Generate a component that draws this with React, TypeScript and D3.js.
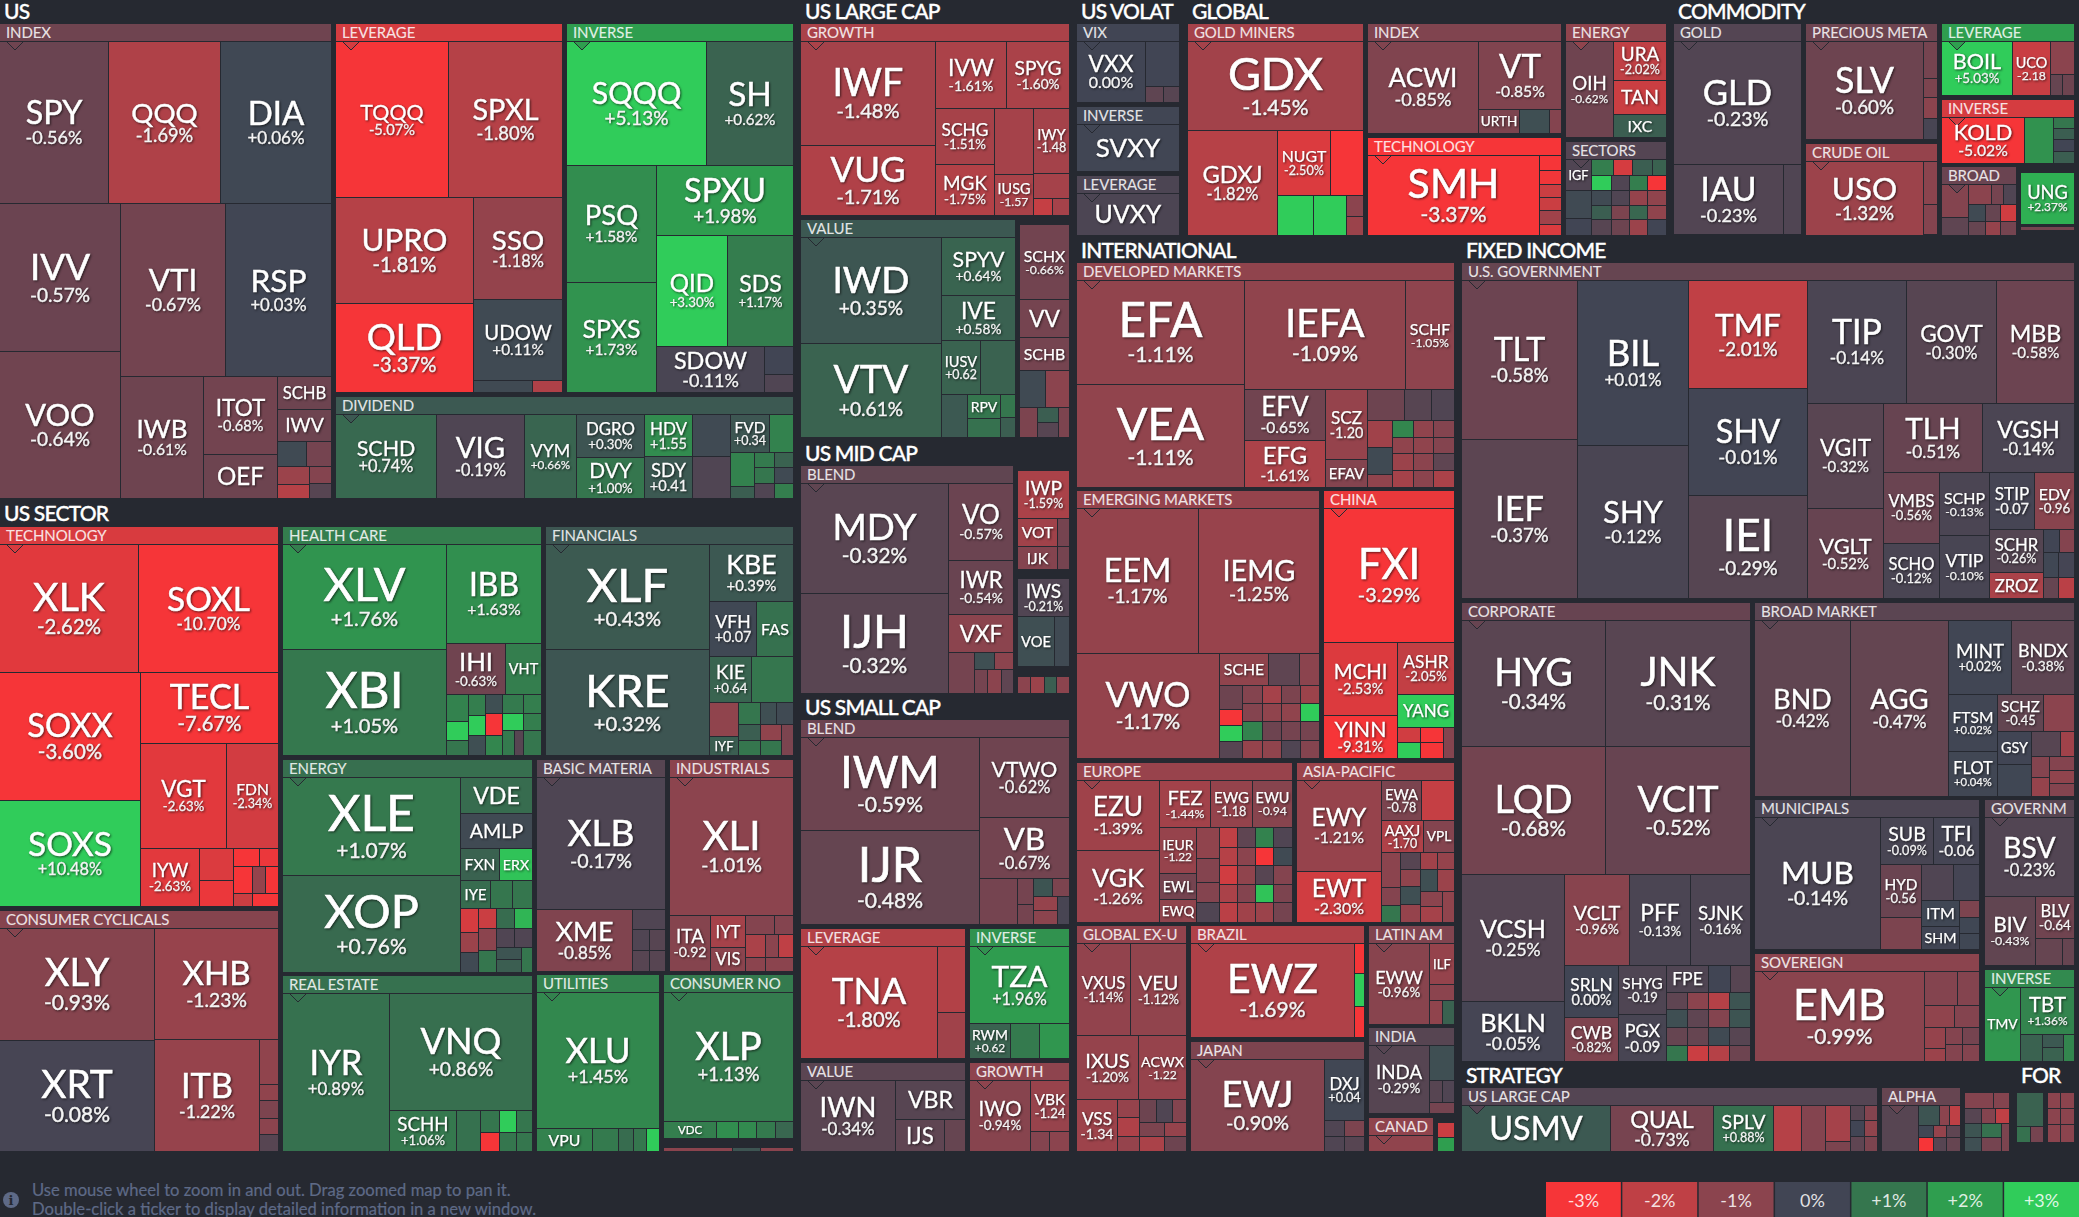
import React from 'react';
import * as d3 from 'd3';

type N = { w: number; d?: 'h' | 'v'; c?: N[]; t?: string; p?: number; f?: number; gap?: boolean; hdr?: string; title?: string; pt?: number };
const L = (w: number, t: string, p: number, f = 1): N => ({ w, t, p, f });
const B = (w: number, p: number): N => ({ w, p });
const G = (w: number): N => ({ w, gap: true });
const H = (w: number, ...c: N[]): N => ({ w, d: 'h', c });
const V = (w: number, ...c: N[]): N => ({ w, d: 'v', c });
const Grp = (w: number, hdr: string, p: number, d: 'h' | 'v', c: N[]): N => ({ w, d, c, hdr, p, pt: 18 });
const Sec = (w: number, title: string, pt: number, d: 'h' | 'v', c: N[]): N => ({ w, d, c, title, pt });

const usIndex = [
  H(162, L(109, 'SPY', -0.56), L(112, 'QQQ', -1.69), L(111, 'DIA', 0.06)),
  H(296, V(121, L(149, 'IVV', -0.57), L(147, 'VOO', -0.64)),
    V(211, H(174, L(105, 'VTI', -0.67), L(106, 'RSP', 0.03)),
      H(122, L(83, 'IWB', -0.61), V(74, L(78, 'ITOT', -0.68), L(44, 'OEF', -0.6, 0)),
        V(54, L(33, 'SCHB', -0.6, 0), L(32, 'IWV', -0.6, 0), H(25, B(29, 0.1), B(25, -0.7)),
          H(32, V(32, B(18, -1.3), B(14, -1.8)), V(22, B(17, -0.9), B(15, -0.3))))))),
];
const usLeverage = [
  H(156, L(113, 'TQQQ', -5.07), L(114, 'SPXL', -1.8)),
  H(196, V(138, L(107, 'UPRO', -1.81), L(89, 'QLD', -3.37)),
    V(89, L(103, 'SSO', -1.18), L(81, 'UDOW', 0.11), H(12, B(59, 0.1), B(30, -1.7)))),
];
const usInverse = [
  H(124, L(140, 'SQQQ', 5.13), L(87, 'SH', 0.62)),
  H(228, V(90, L(118, 'PSQ', 1.58), L(110, 'SPXS', 1.73)),
    V(137, L(71, 'SPXU', 1.98), H(111, L(71, 'QID', 3.3), L(66, 'SDS', 1.17)),
      H(46, L(108, 'SDOW', -0.11), V(29, B(28, 0.0), B(18, -0.2))))),
];
const usDividend = [
  L(101, 'SCHD', 0.74), L(88, 'VIG', -0.19), L(52, 'VYM', 0.66),
  V(68, L(44, 'DGRO', 0.3), L(41, 'DVY', 1.0)),
  V(48, L(42, 'HDV', 1.55, 2), L(43, 'SDY', 0.41, 2)),
  V(38, B(42, 0.1), B(43, -0.2)),
  V(63, H(38, L(39, 'FVD', 0.34, 2), B(24, 1.3)),
    H(47, V(24, B(35, 1.3), B(12, 0.5)), V(20, B(16, 1.1), B(16, 1.0), B(15, -0.2)), V(19, B(16, 0.6), B(16, 0.1), B(15, 1.2)))),
];
const secTechnology = [
  H(128, L(139, 'XLK', -2.62), L(140, 'SOXL', -10.7)),
  H(234, V(141, L(128, 'SOXX', -3.6), L(106, 'SOXS', 10.48)),
    V(138, L(71, 'TECL', -7.67), H(105, L(86, 'VGT', -2.63), L(52, 'FDN', -2.34)),
      H(58, L(59, 'IYW', -2.63), V(34, B(32, -2.5), B(26, -2.8)),
        V(45, H(18, B(26, -3), B(19, -2.8)), H(27, B(19, -3), B(13, -1.2), B(13, -3)), H(13, B(19, -2.2), B(26, -3)))))),
];
const secCyclicals = [
  V(155, L(113, 'XLY', -0.93), L(111, 'XRT', -0.08)),
  V(124, L(112, 'XHB', -1.23), H(112, L(105, 'ITB', -1.22),
    V(19, B(45, -1.1), B(16, -1.1), B(18, -0.8), B(16, -1.0), B(17, -0.3)))),
];
const secHealth = [
  V(164, L(106, 'XLV', 1.76), L(106, 'XBI', 1.05)),
  V(95, L(100, 'IBB', 1.63), H(51, L(59, 'IHI', -0.63), L(36, 'VHT', 1.2, 0)),
    H(61,
      V(22, B(27, 1.3), B(19, 3), B(15, 1.0)),
      V(17, B(21, 1.2), B(20, 3), B(20, 0.2)),
      V(17, B(19, 0.2), B(22, -3), B(20, 1.4)),
      V(21, B(19, 1.1), B(17, 3), H(25, B(12, 1.1), B(9, -0.3))),
      V(18, B(19, 1.2), B(17, 1.2), B(25, 1.0)))),
];
const secFinancials = [
  V(164, L(106, 'XLF', 0.43), L(106, 'KRE', 0.32)),
  V(84, L(58, 'KBE', 0.39), H(55, L(47, 'VFH', 0.07, 2), L(37, 'FAS', 0.9, 0)),
    H(46, L(42, 'KIE', 0.64, 2), B(42, 1.0)),
    H(53, V(29, B(34, -1.1), L(19, 'IYF', 0.5, 0)), V(22, B(22, 1.0), B(16, 0.5), B(15, 1.0)),
      V(33, H(22, B(16, 0.2), B(17, 0.1)), H(31, V(21, B(16, -1.1), B(15, 1.0)), B(12, -0.8))))),
];
const secEnergy = [
  V(178, L(98, 'XLE', 1.07), L(97, 'XOP', 0.76)),
  V(72, L(36, 'VDE', 0.8, 0), L(35, 'AMLP', 0.1, 0), H(32, L(39, 'FXN', 0.6, 0), L(33, 'ERX', 2.8, 0)),
    H(28, L(30, 'IYE', 0.8, 0), B(22, 1.0), B(20, 1.0)),
    H(64, V(18, B(24, -2.4), B(20, -1.3), B(20, 0.1)), V(18, B(20, -2.2), B(22, -1.0), B(22, 1.0)),
      V(36, H(20, B(18, 0.8), B(18, 2.5)), H(19, B(18, -0.2), B(18, -0.2)), H(25, V(25, B(12, 0.3), B(13, 0.5)), B(11, 1.0))))),
];
const secRealEstate = [
  L(107, 'IYR', 0.89),
  V(143, L(117, 'VNQ', 0.86), H(41, L(67, 'SCHH', 1.06), B(24, 0.9), V(19, B(22, 1.0), B(19, -3)), V(17, B(22, 3), B(19, 1.0)), V(16, B(22, 1.0), B(19, 1.0)))),
];
const secBasic = [
  L(132, 'XLB', -0.17),
  H(62, L(96, 'XME', -0.85), V(33, B(20, -0.2), H(21, B(17, -0.2), B(16, -0.3)), H(21, B(17, -0.3), B(16, -0.3)))),
];
const secIndustrials = [
  L(138, 'XLI', -1.01),
  H(56, L(41, 'ITA', -0.92, 2), V(35, L(32, 'IYT', -1.5, 0), L(24, 'VIS', -1.0, 0)),
    V(48, H(19, B(29, -0.9), B(19, -0.9)), H(23, B(20, -1.6), B(13, -1.0), B(15, -2.0)), H(14, B(20, -1.0), B(28, -1.0)))),
];
const secUtilities = [
  L(136, 'XLU', 1.45),
  H(23, L(56, 'VPU', 1.3, 0), B(26, 1.1), B(15, 0.8), B(13, 1.0), B(13, 3)),
];
const secStaples = [
  L(129, 'XLP', 1.13),
  H(17, L(53, 'VDC', 1.2, 0), B(22, 1.6), B(18, 1.5), B(19, 1.1), B(18, 0.7)),
];
const lcGrowth = [
  V(135, L(105, 'IWF', -1.48), L(70, 'VUG', -1.71)),
  V(134, H(67, L(71, 'IVW', -1.61), L(63, 'SPYG', -1.6)),
    H(108, V(59, L(57, 'SCHG', -1.51), L(51, 'MGK', -1.75)),
      V(39, B(67, -1.5), L(41, 'IUSG', -1.57, 2)),
      V(36, L(66, 'IWY', -1.48, 2), B(25, -1.5), H(17, B(19, -2.1), B(17, -1.5))))),
];
const lcValue = [
  V(141, L(107, 'IWD', 0.35), L(94, 'VTV', 0.61)),
  V(74, L(58, 'SPYV', 0.64), L(46, 'IVE', 0.58), H(54, L(39, 'IUSV', 0.62, 2), B(35, 0.6)),
    H(43, B(26, 0.4), V(33, L(24, 'RPV', 1.0, 0), B(19, 0.9)), V(15, B(23, 1.0), B(20, 0.5)))),
];
const lcOther = [
  G(5), L(75, 'SCHX', -0.66), L(38, 'VV', -0.7, 0), L(33, 'SCHB', -0.7, 0),
  H(37, B(26, 0.1), B(24, -1.0)),
  H(30, B(18, -0.8), V(21, B(15, 0.5), B(15, -0.3)), B(11, -0.8)),
];
const mcBlend = [
  V(148, L(111, 'MDY', -0.32), L(100, 'IJH', -0.32)),
  V(65, L(77, 'VO', -0.57), L(55, 'IWR', -0.54), L(38, 'VXF', -1.0, 0),
    H(41, B(26, -0.7), V(39, H(17, B(20, 0.2), B(19, -1.0)), H(24, B(13, -0.7), B(14, -1.0), B(12, -0.4))))),
];
const mcOther = [
  G(5), L(48, 'IWP', -1.59), H(28, L(40, 'VOT', -1.4, 0), B(12, -0.7)), H(23, L(40, 'IJK', -0.9, 0), B(12, -0.7)),
  G(8.6), L(38, 'IWS', -0.21), H(50, L(37, 'VOE', 0.2, 0), B(15, 0.1)), G(9.5),
  H(17, B(13, -1.0), B(14, -1.3), B(12, 0.5), B(13, -1.0)),
];
const scBlend = [
  V(179, L(93, 'IWM', -0.59), L(94, 'IJR', -0.48)),
  V(90, L(80, 'VTWO', -0.62), L(61, 'VB', -0.67),
    H(46, B(38, -0.7), V(16, B(26, -0.7), B(20, -0.7)),
      V(36, H(18, B(19, 0.3), B(17, -0.8)), H(28, V(24, B(14, -1.2), B(14, -1.0)), B(12, -0.1))))),
];
const scLeverage = [L(137, 'TNA', -1.8), V(28, B(66, -1.75), B(46, -1.4))];
const scInverse = [L(77, 'TZA', 1.96), H(35, L(41, 'RWM', 0.62, 2), B(29, 1.1), B(30, 1.8))];
const scValue = [L(95, 'IWN', -0.34), V(70, L(39, 'VBR', -0.3, 0), H(32, L(49, 'IJS', -0.4, 0), B(21, -0.5)))];
const scGrowth = [L(61, 'IWO', -0.94), V(39, L(51, 'VBK', -1.24, 2), H(20, B(19, -0.9), B(20, -1.0)))];
const volVix = [L(69, 'VXX', 0.0), V(34, B(46, 0.0), H(16, B(18, -0.4), B(16, -0.3)))];
const volInverse = [L(48, 'SVXY', 0.02, 0)];
const volLeverage = [L(42, 'UVXY', -0.15, 0)];
const glMiners = [
  L(89, 'GDX', -1.45),
  H(105, L(90, 'GDXJ', -1.82), V(85.5, H(65, L(53, 'NUGT', -2.5), B(32.5, -3)),
    H(40, B(36, 3), B(33, 3), V(16.5, B(21, -1.0), B(19, -1.3))))),
];
const glIndex = [
  L(111, 'ACWI', -0.85),
  V(82.5, L(69, 'VT', -0.85), H(24, L(41, 'URTH', -0.8, 0), B(30, 0.2), B(11.5, -0.9))),
];
const glTech = [L(171.5, 'SMH', -3.37), V(22, B(15.5, -3), B(13.5, -2.9), B(13, -2.2), B(13.5, -2.2), B(13.5, -1.4), B(11, -2.5))];
const glEnergy = [L(48, 'OIH', -0.62), V(53, L(39, 'URA', -2.02), L(34.5, 'TAN', -2.2, 0), L(23, 'IXC', 0.5, 0))];
const glSectors = [
  V(26, L(31, 'IGF', -0.2, 0), B(28, 0.1), B(17, 0.0)),
  V(75,
    H(16, B(21.5, 1.2), B(19, -2.4), B(19.5, 0.5), B(14.7, 0.6)),
    H(15, B(19.5, 3), B(18, -0.2), B(18.5, 1.2), B(19, -3)),
    H(15, B(19.5, 0.1), B(18, -0.2), B(18.5, -1.2), B(19, -1.1)),
    H(14, B(19.5, 0.5), B(18, -0.8), B(18.5, 0.7), B(19, -1.1)),
    H(15, B(19.5, -0.3), B(18, -0.6), B(18.5, -1.3), B(19, 0.0))),
];
const coGold = [L(123, 'GLD', -0.23), H(71, L(110, 'IAU', -0.23), B(18, -0.2))];
const coPrecious = [L(118, 'SLV', -0.6), V(14, B(37, -0.7), B(20, -0.8), B(21, -1.0), B(21, -0.1))];
const coCrude = [L(118, 'USO', -1.32), V(14, B(43, -1.0), B(31, -0.9))];
const coLeverage = [L(71, 'BOIL', 5.03), L(38, 'UCO', -2.18, 2), V(23.5, B(33, -1.0), H(22, B(12, -0.5), B(11.5, -0.6)))];
const coInverse = [L(83, 'KOLD', -5.02), B(29, 1.7), V(20.5, B(11, 1.0), B(11, 0.5), B(12, 0.0), B(12, 0.5))];
const coBroad = [
  V(26, B(33, -0.9), B(18, -0.4)),
  V(48, H(20, B(23, -1.0), B(12, -0.7), B(13, -0.2)), H(17, B(17, 0.1), B(15, -0.5), B(16, -2.3)), H(14, B(17, -0.5), B(15, -1.2), B(16, -0.7))),
];
const coUng = [G(5.3), L(52.7, 'UNG', 2.37), G(2), B(4, -0.7), G(4)];
const inDeveloped = [
  V(168, L(104.5, 'EFA', -1.11), L(103.5, 'VEA', -1.11)),
  V(210, H(110, L(161, 'IEFA', -1.09), L(49, 'SCHF', -1.05)),
    H(98, V(81, L(50.7, 'EFV', -0.65), L(47.3, 'EFG', -1.61)), V(42, L(70, 'SCZ', -1.2, 2), L(28, 'EFAV', -0.9, 0)),
      V(87, H(31, B(37, -0.6), B(27, -0.3), B(23, -0.2)),
        H(67, V(24.6, B(27, -1.4), B(27, 0.1), B(13, -1.1)),
          V(21.4, B(17, 1.4), B(16, -1.1), B(17, -1.3), B(17, -1.5)),
          V(20, B(17, -1.1), B(16, -1.1), B(17, -1.0), B(17, -1.0)),
          V(21, B(17, -0.9), B(16, -0.9), B(17, -0.4), B(17, -1.6)))))),
];
const inEmerging = [
  H(145.5, L(122, 'EEM', -1.17), L(121, 'IEMG', -1.25)),
  H(104.7, L(143, 'VWO', -1.17),
    V(100, H(32, L(49, 'SCHE', -1.1, 0), B(31, -0.4), B(20, -1.0)),
      H(72.7, V(23, B(24, -0.6), B(16, -3), B(16, 3), B(16.7, -0.3)),
        V(19.5, B(18, -0.9), B(17.5, -0.9), B(19, 1.3), B(18.2, -1.2)),
        V(19, B(18, -1.5), B(17.5, -1.1), B(19, -0.6), B(18.2, -1.1)),
        V(19, B(18, -0.8), B(17.5, -1.1), B(19, -0.7), B(18.2, -0.2)),
        V(19.5, B(18, -1.3), B(17.5, 3), B(19, -0.7), B(18.2, -0.9))))),
];
const inChina = [
  L(134.5, 'FXI', -3.29),
  H(115.7, V(74, L(73, 'MCHI', -2.53), L(42.7, 'YINN', -9.31)),
    V(57, L(52, 'ASHR', -2.05), L(33, 'YANG', 3.2, 0), H(30.7, V(23, B(15, -2.3), B(15.7, 3)), V(23, B(15, -3), B(15.7, -3)), B(11, -0.9)))),
];
const inEurope = [
  V(83, L(71, 'EZU', -1.39), L(72, 'VGK', -1.26)),
  V(133, H(48, L(51, 'FEZ', -1.44), L(42, 'EWG', -1.18, 2), L(40, 'EWU', -0.94, 2)),
    H(95, V(37, L(46, 'IEUR', -1.22, 2), L(26, 'EWL', -0.7, 0), L(23, 'EWQ', -1.1, 0)),
      V(23, B(31, -1.1), B(24, -0.9), B(20, -0.9), B(20, -0.2)),
      V(18, B(20, -2.0), B(18, -1.8), B(19, -2.3), B(18, -1.6), B(20, -1.9)),
      V(18, B(20, -0.4), B(18, -1.0), B(19, -1.1), B(18, -0.9), B(20, -1.4)),
      V(18, B(20, 1.3), B(18, -3), B(19, -0.3), B(18, 2.8), B(20, -1.3)),
      V(19, B(20, -0.2), B(18, 0.1), B(19, -0.9), B(18, -0.8), B(20, -0.7)))),
];
const inAsia = [
  V(85, L(92, 'EWY', -1.21), L(51, 'EWT', -2.3)),
  V(73, H(41, L(40, 'EWA', -0.78, 2), B(33, -2.1)), H(32, L(42, 'AAXJ', -1.7, 2), L(31, 'VPL', -0.9, 0)),
    H(70, V(19, B(35, -1.0), B(18, -0.9), B(17, 1.0)), V(20, B(17, -0.3), B(17, -1.1), B(18, 0.2), B(18, -1.2)),
      V(34, H(17, B(17, -1.4), B(17, -1.2)), H(22, B(17, 0.2), B(17, -1.3)), H(31, V(22, B(15, -1.0), B(16, -1.5)), B(12, -1.1))))),
];
const inGlobalEx = [
  H(92.5, L(54, 'VXUS', -1.14), L(56, 'VEU', -1.12)),
  H(64, L(62, 'IXUS', -1.2), L(48, 'ACWX', -1.22, 2)),
  H(52, L(41, 'VSS', -1.34, 2), V(22, B(18, -1.2), B(19, -1.7), B(15, -1.2)),
    V(47, H(23, B(17, -0.6), B(15.5, -0.2), B(14.5, -0.9)), H(14, B(25, -0.8), B(22, -1.2)), H(15, B(25, -1.6), B(22, -0.6)))),
];
const inBrazil = [L(164, 'EWZ', -1.69), V(10, B(30.7, -3), B(33, 3), B(31, -3))];
const inJapan = [L(134, 'EWJ', -0.9), V(40, L(62, 'DXJ', 0.04, 2), H(16, B(20, -0.2), B(20, -0.8)), H(15, B(20, -0.2), B(20, -0.3)))];
const inLatin = [L(61, 'EWW', -0.96), V(25, L(41, 'ILF', -1.2, 0), B(16, -1.0), H(24, B(13, -1.1), B(12, 0.6)))];
const inIndia = [L(61, 'INDA', -0.29), V(25, B(35, 0.2), H(23, B(13, -0.3), B(12, -0.2)), B(11, -0.7))];
const inCanada = [B(16, -1.1)];
const fiGov = [
  V(115.6, L(158, 'TLT', -0.58), L(158.7, 'IEF', -0.37)),
  V(111.4, L(164, 'BIL', 0.01), L(152.7, 'SHY', -0.12)),
  V(119, L(107, 'TMF', -2.01), L(107, 'SHV', -0.01), L(102.7, 'IEI', -0.29)),
  V(266.5, H(122.7, L(99, 'TIP', -0.14), L(90, 'GOVT', -0.3), L(77.5, 'MBB', -0.58)),
    H(194, V(75.2, L(104, 'VGIT', -0.32), L(90, 'VGLT', -0.52)),
      V(191.3, H(68, L(99, 'TLH', -0.51), L(92.3, 'VGSH', -0.14)),
        H(126, V(56.5, L(71, 'VMBS', -0.56), L(55, 'SCHO', -0.12)), V(49.8, L(63, 'SCHP', -0.13), L(63, 'VTIP', -0.1)),
          V(85, H(57, L(45, 'STIP', -0.07, 2), L(40, 'EDV', -0.96, 2)),
            H(69, V(54, L(43, 'SCHR', -0.26), L(26, 'ZROZ', -1.6, 0)),
              V(31, H(23, B(16.5, 0.0), B(14.5, -0.9)), H(25, B(15, 0.05), B(16, -0.05)), H(21, B(15, -0.5), B(16, -1.9)))))))),
  ),
];
const fiCorporate = [
  H(255, V(144, L(126.4, 'HYG', -0.34), L(128.6, 'LQD', -0.68)), V(145, L(126.4, 'JNK', -0.31), L(128.6, 'VCIT', -0.52))),
  H(187.4, V(103, L(127, 'VCSH', -0.25), L(60.4, 'BKLN', -0.05)),
    V(186, H(91, L(65, 'VCLT', -0.96), L(61, 'PFF', -0.13), L(60, 'SJNK', -0.16)),
      H(96.4, V(54, L(52, 'SRLN', 0.0), L(44.4, 'CWB', -0.82)), V(48, L(49, 'SHYG', -0.19, 2), L(47.4, 'PGX', -0.09, 2)),
        V(84, H(27, L(42, 'FPE', -0.2, 0), B(22, 0.0), B(20, -0.3)),
          H(69.4, V(21, B(17.5, -0.4), B(17.5, 0.2), B(17.5, -0.5), B(16.4, 1.0)),
            V(21, B(17.5, -1.0), B(17.5, -0.4), B(17.5, -0.5), B(16.4, -2.2)),
            V(21, B(17.5, -1.8), B(17.5, -0.9), B(17.5, 0.1), B(16.4, -1.8)),
            V(21, B(17.5, 0.3), B(17.5, 0.3), B(17.5, -0.3), B(16.4, -0.6))))))),
];
const fiBroad = [
  L(96, 'BND', -0.42), L(98, 'AGG', -0.47),
  V(125.5, H(75, L(63, 'MINT', 0.02), L(62.5, 'BNDX', -0.38)),
    H(102, V(49, L(57, 'FTSM', 0.02), L(45, 'FLOT', 0.04)),
      V(76.5, H(36.5, L(45.5, 'SCHZ', -0.45, 2), B(31, -1.0)),
        H(65.5, V(33.7, L(33, 'GSY', 0.0, 0), B(32, 0.05)),
          V(42.8, H(25, B(29.3, -0.3), B(13.5, -1.4)), H(40, V(17.5, B(21, -0.9), B(19, -1.2)), V(25.3, B(14, -0.9), B(13, -1.1), B(13, -0.9)))))))),
];
const fiMuni = [
  L(126, 'MUB', -0.14),
  V(99, H(47, L(53, 'SUB', -0.09), L(46, 'TFI', -0.06, 2)),
    H(85.5, V(41, L(53, 'HYD', -0.56, 2), B(32.5, -0.8)),
      V(58, H(36.5, B(32, -0.2), B(26, -0.05)),
        H(49, V(38, L(26, 'ITM', 0.05, 0), L(23, 'SHM', 0.0, 0)), V(20, B(16.5, -0.8), B(16, 0.05), B(16.5, 0.05)))))),
];
const fiSovereign = [
  L(169.7, 'EMB', -0.99),
  V(55.3, H(35, B(33, -0.9), B(22, -0.9)), H(22, B(30, -1.1), B(25, -0.9)),
    H(34.4, V(21, B(21, -1.2), B(13.4, -1.3)), V(17, B(17.6, -0.9), B(16.8, -0.9)), V(17, B(17.6, -0.7), B(16.8, -0.9)))),
];
const fiGovernment = [
  L(79, 'BSV', -0.23),
  H(69, L(51.5, 'BIV', -0.43), V(38.5, L(42, 'BLV', -0.64, 2), H(27, B(27, -0.5), B(11.5, -0.5)))),
];
const fiInverse = [
  L(36.5, 'TMV', 1.8, 0),
  V(53.5, L(47, 'TBT', 1.36), H(27.4, B(22, 0.6), V(21, B(13, 0.4), B(14.4, 0.6)), B(10.5, 1.4))),
];
const stLargeCap = [
  L(149.6, 'USMV', 0.4, 0), L(103, 'QUAL', -0.73), L(60, 'SPLV', 0.88), B(27.7, -1.8), B(23.7, -0.9),
  V(25, B(37, -1.5), B(10, -0.8)),
  V(27.5, H(15, B(14, -0.3), B(13.5, -0.9)), H(17, B(14, 0.0), B(13.5, -1.1)), H(15, B(14, -0.4), B(13.5, -0.8))),
];
const stAlpha = [
  B(36.6, -0.3),
  V(42, H(20, B(21, 0.3), B(10.5, -1.0), B(10.5, -2.0)), H(13, B(15, 0.05), B(13.6, -1.2), B(13.4, -0.4)), H(14, B(15, -3), B(13.6, -0.3), B(13.4, -0.5))),
];
const stOther = [
  G(4.6),
  H(16, B(29.2, -0.9), B(16.3, -0.9)),
  H(14.5, B(17.5, -0.3), B(14, -0.9), B(14, -2.0)),
  H(28, V(17.5, B(14, 0.3), B(14, 0.2)), V(20, B(14, 0.9), B(14, -0.7)), B(8, -0.8)),
];
const forCells = [
  V(27, B(33, 0.6), H(15, B(14, 0.9), B(13, -0.7))),
  G(4),
  V(13, B(15.5, -1.0), B(15.5, -1.0), B(17, -1.0)),
  V(13.5, B(15.5, -1.0), B(15.5, -1.0), B(17, -1.0)),
];

const rootColumns: N[] = [
  V(794,
    Sec(499, 'US', 24, 'h', [
      Grp(332, 'INDEX', -0.62, 'v', usIndex), G(4),
      V(458,
        H(369, Grp(227, 'LEVERAGE', -2.4, 'v', usLeverage), G(4), Grp(227, 'INVERSE', 2.0, 'v', usInverse)),
        G(4),
        Grp(102, 'DIVIDEND', 0.4, 'h', usDividend)),
    ]),
    G(1),
    Sec(652, 'US SECTOR', 26.5, 'h', [
      V(279, Grp(379.5, 'TECHNOLOGY', -2.45, 'v', secTechnology), G(4), Grp(241, 'CONSUMER CYCLICALS', -0.92, 'h', secCyclicals)),
      G(4),
      V(511,
        H(229.5, Grp(259, 'HEALTH CARE', 1.2, 'h', secHealth), G(4), Grp(248, 'FINANCIALS', 0.35, 'h', secFinancials)),
        G(4),
        H(391, 
          V(250, Grp(212, 'ENERGY', 0.85, 'h', secEnergy), G(3), Grp(176, 'REAL ESTATE', 0.9, 'h', secRealEstate)),
          G(4),
          V(257,
            H(211, Grp(129, 'BASIC MATERIA', -0.3, 'v', secBasic), G(4), Grp(124, 'INDUSTRIALS', -1.0, 'v', secIndustrials)),
            G(3),
            H(177, Grp(123, 'UTILITIES', 1.3, 'v', secUtilities), G(4),
              V(130, Grp(164, 'CONSUMER NO', 1.1, 'v', secStaples), G(9), H(4, B(69, -1.0), B(28, 0.3), B(33, -1.0))))))),
    ])),
  G(7),
  V(269,
    Sec(438, 'US LARGE CAP', 24, 'v', [
      Grp(192, 'GROWTH', -1.6, 'h', lcGrowth), G(4),
      H(218, Grp(215, 'VALUE', 0.38, 'h', lcValue), G(4), V(50, ...lcOther)),
    ]),
    Sec(256, 'US MID CAP', 28, 'h', [
      Grp(213, 'BLEND', -0.42, 'h', mcBlend), G(4), V(52, ...mcOther),
    ]),
    Sec(458, 'US SMALL CAP', 26.4, 'v', [
      Grp(205, 'BLEND', -0.58, 'h', scBlend), G(4),
      H(130, Grp(165, 'LEVERAGE', -1.75, 'h', scLeverage), G(4), Grp(100, 'INVERSE', 1.7, 'v', scInverse)),
      G(3.5),
      H(89, Grp(165, 'VALUE', -0.35, 'h', scValue), G(4), Grp(100, 'GROWTH', -1.05, 'h', scGrowth)),
    ])),
  G(7),
  V(998,
    H(235.5,
      Sec(103, 'US VOLAT', 24, 'v', [
        Grp(79, 'VIX', 0.0, 'h', volVix), G(4),
        Grp(65, 'INVERSE', 0.02, 'v', volInverse), G(4),
        Grp(59, 'LEVERAGE', -0.15, 'v', volLeverage),
      ]),
      G(8),
      Sec(479, 'GLOBAL', 24, 'h', [
        Grp(175.5, 'GOLD MINERS', -1.5, 'v', glMiners), G(4.5),
        V(193.5, Grp(110, 'INDEX', -0.85, 'h', glIndex), G(3.5), Grp(98, 'TECHNOLOGY', -3, 'h', glTech)),
        G(4.5),
        V(101, Grp(114, 'ENERGY', -1.1, 'h', glEnergy), G(4), Grp(93.5, 'SECTORS', -0.25, 'h', glSectors)),
      ]),
      G(7),
      Sec(400.5, 'COMMODITY', 24, 'h', [
        Grp(128, 'GOLD', -0.25, 'v', coGold), G(4),
        V(132, Grp(116, 'PRECIOUS META', -0.6, 'h', coPrecious), G(3.7), Grp(91.8, 'CRUDE OIL', -1.2, 'h', coCrude)),
        G(4),
        V(132.5,
          Grp(72.3, 'LEVERAGE', 2.0, 'h', coLeverage), G(3.7),
          Grp(63.7, 'INVERSE', -2.4, 'h', coInverse), G(3.3),
          H(68, Grp(74.5, 'BROAD', -0.55, 'h', coBroad), G(4), V(54, ...coUng))),
      ])),
    G(4.5),
    H(912,
      Sec(378, 'INTERNATIONAL', 23, 'v', [
        Grp(225, 'DEVELOPED MARKETS', -1.1, 'h', inDeveloped), G(3),
        H(267.7, Grp(243, 'EMERGING MARKETS', -1.18, 'v', inEmerging), G(4), Grp(131, 'CHINA', -2.75, 'v', inChina)),
        G(4),
        H(160, Grp(216, 'EUROPE', -1.25, 'h', inEurope), G(4), Grp(158, 'ASIA-PACIFIC', -1.3, 'h', inAsia)),
        G(3.3),
        H(226,
          Grp(110, 'GLOBAL EX-U', -1.15, 'v', inGlobalEx), G(4),
          V(174, Grp(112, 'BRAZIL', -1.7, 'h', inBrazil), G(3.7), Grp(110.3, 'JAPAN', -0.8, 'h', inJapan)),
          G(4),
          V(86,
            Grp(98.7, 'LATIN AM', -0.85, 'h', inLatin), G(3.3), Grp(86.3, 'INDIA', -0.3, 'h', inIndia), G(3.7),
            H(34, Grp(65.3, 'CANAD', -1.1, 'h', inCanada), G(4), V(16.7, G(5), B(15, -2.2), B(14, 2.0))))),
      ]),
      G(7),
      V(613,
        Sec(822, 'FIXED INCOME', 23, 'v', [
          Grp(337, 'U.S. GOVERNMENT', -0.5, 'h', fiGov), G(3.3),
          H(460,
            Grp(289, 'CORPORATE', -0.52, 'v', fiCorporate), G(4),
            V(320,
              Grp(194, 'BROAD MARKET', -0.35, 'h', fiBroad), G(3.7),
              H(261.7,
                V(225, Grp(149.8, 'MUNICIPALS', -0.15, 'h', fiMuni), G(3.5), Grp(108.4, 'SOVEREIGN', -1.0, 'h', fiSovereign)),
                G(4.5),
                V(90.5, Grp(165.6, 'GOVERNM', -0.3, 'v', fiGovernment), G(4), Grp(92, 'INVERSE', 1.5, 'h', fiInverse))))),
        ]),
        H(90,
          Sec(548, 'STRATEGY', 26.4, 'h', [
            Grp(416.5, 'US LARGE CAP', -0.25, 'h', stLargeCap), G(4),
            Grp(78.5, 'ALPHA', -0.5, 'h', stAlpha), G(4),
            V(45.5, ...stOther),
          ]),
          G(7),
          Sec(58, 'FOR', 26.4, 'v', [G(5), H(49, ...forCells), G(9)]))))),
];
const rootData: N = { w: 2079, d: 'h', c: [...rootColumns, G(4)] };

const legendLabels = ['-3%', '-2%', '-1%', '0%', '+1%', '+2%', '+3%'];
const legendStops = [-3, -2, -1, 0, 1, 2, 3];
const legendColors = ['#f63538', '#bf4045', '#8b444e', '#414554', '#35764e', '#2f9e4f', '#30cc5a'];
const helpLines = ['Use mouse wheel to zoom in and out. Drag zoomed map to pan it.', 'Double-click a ticker to display detailed information in a new window.'];
const tickerScale: Record<string, number> = { XLY: 0.84, XRT: 0.9, TLT: 0.9, IEF: 0.9, VTI: 0.92, IEFA: 0.92, TQQQ: 0.86, VGT: 0.85, FDN: 0.85, IYW: 0.9, SCHD: 0.88, DGRO: 0.92 };
const pctScale: Record<string, number> = { TQQQ: 0.8, VGT: 0.82 };

const BG = '#262931';
const FONT = 'Lato, sans-serif';
const color = d3.scaleLinear<string>().domain(legendStops).range(legendColors).clamp(true);
const tickerFrac = d3.scaleLinear().domain([25, 50, 70, 110, 170]).range([0.84, 0.7, 0.62, 0.52, 0.5]).clamp(true);
const pctFrac = d3.scaleLinear().domain([25, 50, 70, 110, 170]).range([0.9, 0.78, 0.64, 0.52, 0.4]).clamp(true);

const ctx = document.createElement('canvas').getContext('2d')!;
const textW = (s: string) => {
  ctx.font = `100px Lato`;
  return ctx.measureText(s).width / 100;
};
const pctText = (p: number, f: number) => {
  const v = Math.abs(p).toFixed(2);
  const sign = p > 0 ? '+' : p < 0 ? '-' : '';
  return sign + v + (f === 1 ? '%' : '');
};

function tile(node: any, x0: number, y0: number, x1: number, y1: number) {
  const kids = node.children;
  const total = d3.sum(kids, (k: any) => k.data.w) as number;
  let pos = node.data.d === 'h' ? x0 : y0;
  const extent = node.data.d === 'h' ? x1 - x0 : y1 - y0;
  for (const k of kids) {
    const len = (k.data.w / total) * extent;
    if (node.data.d === 'h') {
      k.x0 = pos; k.x1 = pos + len; k.y0 = y0; k.y1 = y1;
    } else {
      k.y0 = pos; k.y1 = pos + len; k.x0 = x0; k.x1 = x1;
    }
    pos += len;
  }
}

export default function App() {
  const root: any = d3.hierarchy<N>(rootData, (d) => d.c).sum((d) => (d.c ? 0 : d.w));
  d3.treemap<N>().size([2079, 1152]).tile(tile as any).paddingTop((n: any) => n.data.pt || 0)(root);
  const nodes: any[] = root.descendants();
  const box = (n: any) => {
    const x = Math.round(n.x0), y = Math.round(n.y0);
    return { x, y, w: Math.round(n.x1) - x - 1, h: Math.round(n.y1) - y - 1 };
  };
  const leaves = nodes.filter((n) => !n.children && !n.data.gap);
  const groups = nodes.filter((n) => n.data.hdr);
  const sections = nodes.filter((n) => n.data.title);
  const legendX = d3.scaleBand<string>().domain(legendLabels).range([1546, 2079]).paddingInner(0.02);

  return (
    <svg width={2079} height={1217} viewBox="0 0 2079 1217" style={{ position: 'absolute', left: 0, top: 0, display: 'block' }}>
      <style>{`html,body{margin:0;background:${BG};overflow:hidden}`}</style>
      <rect x={0} y={0} width={2079} height={1217} fill={BG} />
      {leaves.map((n, i) => {
        const b = box(n);
        return <rect key={i} x={b.x} y={b.y} width={Math.max(b.w, 0)} height={Math.max(b.h, 0)} fill={color(n.data.p)} />;
      })}
      {groups.map((n, i) => {
        const x = Math.round(n.x0), y = Math.round(n.y0), w = Math.round(n.x1) - x - 1;
        const yb = y + 17;
        return (
          <g key={i}>
            <rect x={x} y={y} width={w} height={17} fill={color(n.data.p)} />
            <path d={`M${x + 7},${yb + 1}L${x + 15},${yb + 9}L${x + 23},${yb + 1}`} fill={color(n.data.p)} stroke={BG} strokeWidth={1} />
            <text x={x + 6} y={y + 13.5} fontFamily={FONT} fontSize={15} fill="#fff" fillOpacity={0.85} letterSpacing={-0.1} stroke="#fff" strokeOpacity={0.5} strokeWidth={0.2}>{n.data.hdr}</text>
          </g>
        );
      })}
      <g style={{ filter: 'drop-shadow(1.2px 1.2px 0.8px rgba(0,0,0,0.6))' }}>
        {leaves.filter((n) => n.data.t).map((n, i) => {
          const b = box(n);
          const pct = n.data.f ? pctText(n.data.p, n.data.f) : '';
          const tw = textW(n.data.t);
          let fs = (tickerFrac(b.w) * b.w * Math.pow(tw / 1.75, 0.45)) / tw * (tickerScale[n.data.t] || 1);
          fs = Math.min(fs, b.h * (pct ? 0.52 : 0.72), 0.92 * b.w / tw, 50);
          let pfs = pct ? (pctFrac(b.w) * b.w) / textW(pct) * (pctScale[n.data.t] || 1) : 0;
          pfs = Math.min(pfs, 21, fs * 0.85);
          if (pct) {
            const total = 0.94 * fs + 0.72 * pfs;
            if (total > b.h * 0.88) {
              const k = (b.h * 0.88) / total;
              fs *= k; pfs *= k;
            }
          }
          const blockH = pct ? 0.94 * fs + 0.72 * pfs : 0.72 * fs;
          const cx = b.x + b.w / 2;
          const top = b.y + (b.h - blockH) / 2;
          const base = top + 0.72 * fs;
          return (
            <g key={i}>
              <text x={cx} y={base} textAnchor="middle" fontFamily={FONT} fontSize={fs} fill="#fff" stroke="#fff" strokeWidth={Math.max(0.25, fs * 0.014)}>{n.data.t}</text>
              {pct && <text x={cx} y={base + 0.22 * fs + 0.72 * pfs} textAnchor="middle" fontFamily={FONT} fontSize={pfs} fill="#f4f4f4" stroke="#f4f4f4" strokeWidth={Math.max(0.25, pfs * 0.02)}>{pct}</text>}
            </g>
          );
        })}
      </g>
      {sections.map((n, i) => {
        const x = Math.round(n.x0), y = Math.round(n.y0);
        return <text key={i} x={x + 4} y={y + n.data.pt - 5.5} fontFamily={FONT} fontSize={21} fontWeight={500} fill="#fff" stroke="#fff" strokeWidth={0.35} letterSpacing={-0.8}>{n.data.title}</text>;
      })}
      <circle cx={11} cy={1200} r={8} fill="#5e6a87" />
      <text x={11} y={1205} textAnchor="middle" fontFamily="DejaVu Serif, serif" fontWeight={700} fontSize={13} fill={BG}>i</text>
      {helpLines.map((s, i) => (
        <text key={i} x={32} y={1196 + i * 19} fontFamily={FONT} fontSize={16.6} fill="#5e6a87" stroke="#5e6a87" strokeWidth={0.2}>{s}</text>
      ))}
      {legendLabels.map((l, i) => (
        <g key={l}>
          <rect x={legendX(l)} y={1182} width={legendX.bandwidth()} height={35} fill={color(legendStops[i])} />
          <text x={legendX(l)! + legendX.bandwidth() / 2} y={1207} textAnchor="middle" fontFamily={FONT} fontSize={18} fill="#fff" fillOpacity={0.85}>{l}</text>
        </g>
      ))}
    </svg>
  );
}
